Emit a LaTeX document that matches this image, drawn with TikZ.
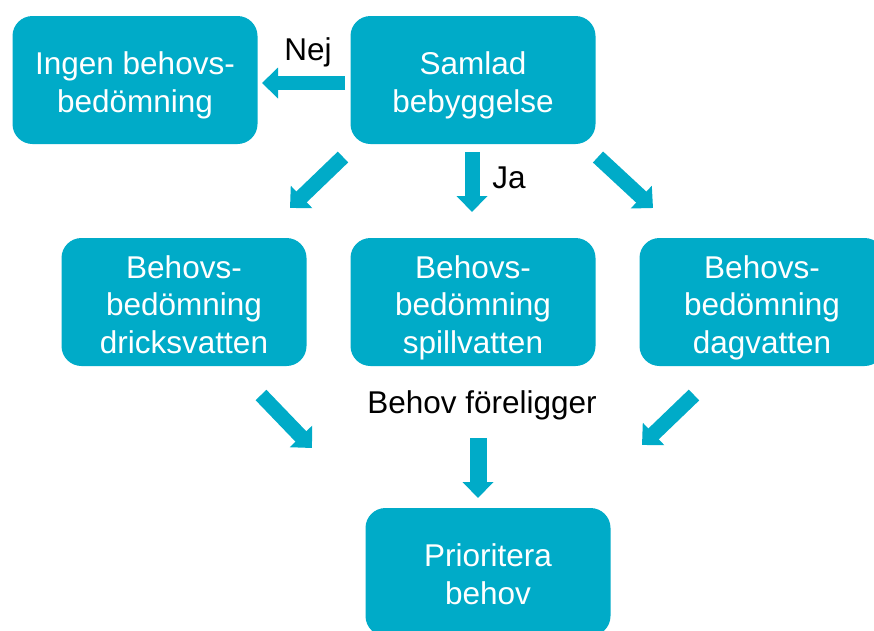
\documentclass[tikz,border=0pt]{standalone}
\usepackage{fontspec}
\setmainfont{Liberation Sans}
\usetikzlibrary{arrows.meta}
\definecolor{boxc}{RGB}{0,171,200}
\newcommand{\boxtext}[1]{\raisebox{-6pt}[\height][\depth]{\begin{tabular}{@{}c@{}}#1\end{tabular}}}
\tikzset{
  box/.style={rectangle, rounded corners=20pt, fill=boxc, text=white,
    minimum width=245pt, minimum height=128pt, align=center,
    font=\fontsize{31.5}{37.5}\selectfont, inner sep=0pt},
  lbl/.style={text=black, font=\fontsize{31.5}{37.5}\selectfont, inner sep=0pt},
  barrow/.style={draw=boxc, line width=15pt,
    -{Triangle[width=30pt,length=16pt]}},
}
\begin{document}
\begin{tikzpicture}[x=1pt,y=-1pt]
\useasboundingbox (0,0) rectangle (874,630);
\node[box] (ingen) at (135,80) {\boxtext{Ingen behovs-\\bedömning}};
\node[box] (samlad) at (473,80) {\boxtext{Samlad\\bebyggelse}};
\node[box] (dricks) at (184,302) {\boxtext{Behovs-\\bedömning\\dricksvatten}};
\node[box] (spill) at (473,302) {\boxtext{Behovs-\\bedömning\\spillvatten}};
\node[box] (dag) at (762,302) {\boxtext{Behovs-\\bedömning\\dagvatten}};
\node[box] (prio) at (488,572) {\boxtext{Prioritera\\behov}};

\node[lbl] (nej) at (308,52) {Nej};
\node[lbl] (ja) at (509,178) {Ja};
\node[lbl] (behov) at (482,405) {Behov föreligger};

\coordinate (a1s) at (345,83);  \coordinate (a1e) at (262,83);
\coordinate (a2s) at (472,152); \coordinate (a2e) at (472,212);
\coordinate (a3s) at (343,157); \coordinate (a3e) at (290,208);
\coordinate (a4s) at (598,157); \coordinate (a4e) at (653,208);
\coordinate (a5s) at (261,395); \coordinate (a5e) at (312,448);
\coordinate (a6s) at (694,395); \coordinate (a6e) at (642,445);
\coordinate (a7s) at (478,438); \coordinate (a7e) at (478,498);

\draw[barrow, line width=14pt] (a1s) -- (a1e);
\draw[barrow, line width=15pt] (a2s) -- (a2e);
\draw[barrow] (a3s) -- (a3e);
\draw[barrow] (a4s) -- (a4e);
\draw[barrow] (a5s) -- (a5e);
\draw[barrow] (a6s) -- (a6e);
\draw[barrow, line width=17pt] (a7s) -- (a7e);
\end{tikzpicture}
\end{document}
